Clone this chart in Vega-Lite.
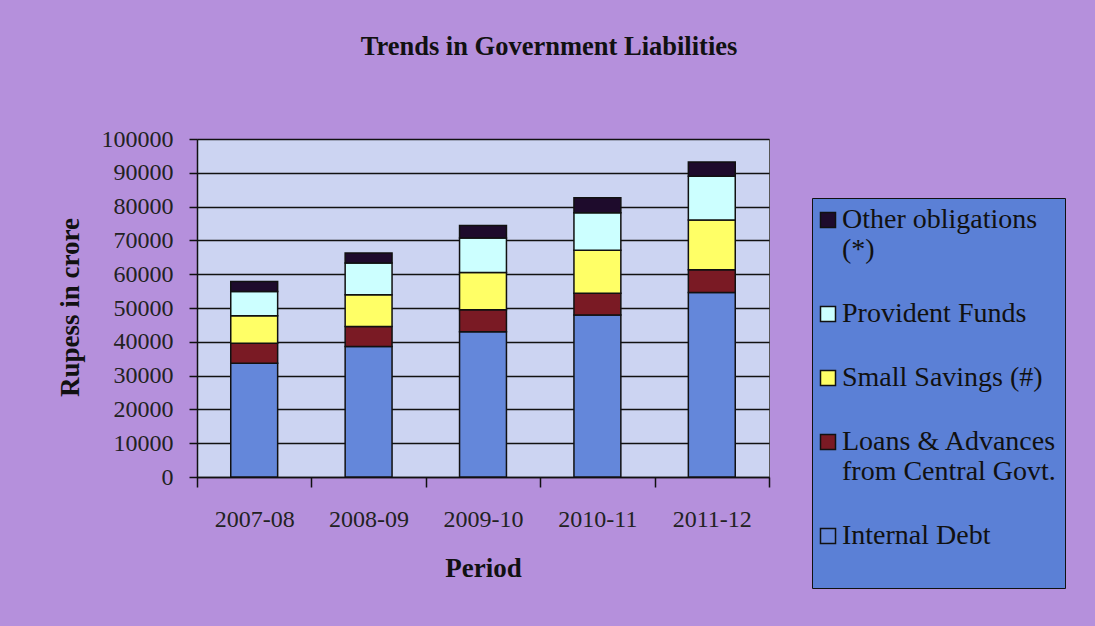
{
  "$schema": "https://vega.github.io/schema/vega-lite/v6.json",
  "width": 572,
  "height": 338,
  "autosize": {"type": "none"},
  "padding": {"left": 197, "top": 139, "right": 326, "bottom": 149},
  "background": "#b590dc",
  "title": {
    "text": "Trends in Government Liabilities",
    "font": "Liberation Serif",
    "fontSize": 26.5,
    "fontWeight": "bold",
    "color": "#111111",
    "anchor": "middle",
    "frame": "group",
    "dx": 66,
    "offset": 67
  },
  "data": {
    "values": [
      {"period": "2007-08", "component": "Internal Debt", "ord": 1, "value": 33650},
      {"period": "2007-08", "component": "Loans & Advances from Central Govt.", "ord": 2, "value": 5950},
      {"period": "2007-08", "component": "Small Savings (#)", "ord": 3, "value": 8100},
      {"period": "2007-08", "component": "Provident Funds", "ord": 4, "value": 7200},
      {"period": "2007-08", "component": "Other obligations (*)", "ord": 5, "value": 2960},
      {"period": "2008-09", "component": "Internal Debt", "ord": 1, "value": 38600},
      {"period": "2008-09", "component": "Loans & Advances from Central Govt.", "ord": 2, "value": 5900},
      {"period": "2008-09", "component": "Small Savings (#)", "ord": 3, "value": 9400},
      {"period": "2008-09", "component": "Provident Funds", "ord": 4, "value": 9400},
      {"period": "2008-09", "component": "Other obligations (*)", "ord": 5, "value": 3000},
      {"period": "2009-10", "component": "Internal Debt", "ord": 1, "value": 43000},
      {"period": "2009-10", "component": "Loans & Advances from Central Govt.", "ord": 2, "value": 6500},
      {"period": "2009-10", "component": "Small Savings (#)", "ord": 3, "value": 11000},
      {"period": "2009-10", "component": "Provident Funds", "ord": 4, "value": 10200},
      {"period": "2009-10", "component": "Other obligations (*)", "ord": 5, "value": 3700},
      {"period": "2010-11", "component": "Internal Debt", "ord": 1, "value": 47900},
      {"period": "2010-11", "component": "Loans & Advances from Central Govt.", "ord": 2, "value": 6500},
      {"period": "2010-11", "component": "Small Savings (#)", "ord": 3, "value": 12660},
      {"period": "2010-11", "component": "Provident Funds", "ord": 4, "value": 11100},
      {"period": "2010-11", "component": "Other obligations (*)", "ord": 5, "value": 4450},
      {"period": "2011-12", "component": "Internal Debt", "ord": 1, "value": 54600},
      {"period": "2011-12", "component": "Loans & Advances from Central Govt.", "ord": 2, "value": 6700},
      {"period": "2011-12", "component": "Small Savings (#)", "ord": 3, "value": 14700},
      {"period": "2011-12", "component": "Provident Funds", "ord": 4, "value": 13000},
      {"period": "2011-12", "component": "Other obligations (*)", "ord": 5, "value": 4200}
    ]
  },
  "mark": {"type": "bar", "stroke": "#111111", "strokeWidth": 1.5, "width": {"band": 0.41}},
  "encoding": {
    "x": {
      "field": "period",
      "type": "nominal",
      "scale": {"paddingInner": 0, "paddingOuter": 0},
      "axis": {
        "title": "Period",
        "titleFont": "Liberation Serif",
        "titleFontSize": 27,
        "titleFontWeight": "bold",
        "titleColor": "#111111",
        "titleBaseline": "middle",
        "titleY": 91,
        "labelAngle": 0,
        "labelFont": "Liberation Serif",
        "labelFontSize": 24,
        "labelColor": "#222222",
        "labelPadding": 20,
        "tickBand": "extent",
        "tickSize": 10,
        "tickColor": "#111111",
        "tickWidth": 1.5,
        "domainColor": "#111111",
        "domainWidth": 1.5,
        "grid": false
      }
    },
    "y": {
      "field": "value",
      "type": "quantitative",
      "stack": "zero",
      "scale": {"domain": [0, 100000]},
      "axis": {
        "title": "Rupess in crore",
        "titleFont": "Liberation Serif",
        "titleFontSize": 27,
        "titleFontWeight": "bold",
        "titleColor": "#111111",
        "titleX": -127,
        "titleY": 168,
        "titleAngle": -90,
        "titleAlign": "center",
        "titleBaseline": "middle",
        "values": [0, 10000, 20000, 30000, 40000, 50000, 60000, 70000, 80000, 90000, 100000],
        "format": "d",
        "labelFont": "Liberation Serif",
        "labelFontSize": 24,
        "labelColor": "#222222",
        "labelPadding": 16,
        "tickSize": 8,
        "tickColor": "#111111",
        "tickWidth": 1.5,
        "domainColor": "#111111",
        "domainWidth": 1.5,
        "grid": true,
        "gridColor": "#111111",
        "gridWidth": 1.5
      }
    },
    "color": {
      "field": "component",
      "type": "nominal",
      "scale": {
        "domain": ["Other obligations (*)", "Provident Funds", "Small Savings (#)", "Loans & Advances from Central Govt.", "Internal Debt"],
        "range": ["#1e0b2c", "#ccffff", "#ffff66", "#7a1a24", "#6487da"]
      },
      "legend": {
        "title": null,
        "orient": "none",
        "legendX": 615,
        "legendY": 59,
        "fillColor": "#5b80d6",
        "strokeColor": "#111111",
        "padding": 8,
        "symbolType": "square",
        "symbolSize": 225,
        "symbolOffset": -6,
        "symbolStrokeColor": "#111111",
        "symbolStrokeWidth": 1.5,
        "symbolOpacity": 1,
        "labelFont": "Liberation Serif",
        "labelFontSize": 28,
        "labelColor": "#111111",
        "labelLimit": 400,
        "labelOffset": 0,
        "rowPadding": 36,
        "labelExpr": "datum.label == 'Other obligations (*)' ? ['Other obligations', '(*)'] : datum.label == 'Loans & Advances from Central Govt.' ? ['Loans & Advances', 'from Central Govt.'] : datum.label == 'Internal Debt' ? ['Internal Debt', ' '] : datum.label"
      }
    },
    "order": {"field": "ord", "type": "quantitative"}
  },
  "config": {
    "view": {"fill": "#ccd4f2", "stroke": "#555555", "strokeWidth": 1}
  }
}
